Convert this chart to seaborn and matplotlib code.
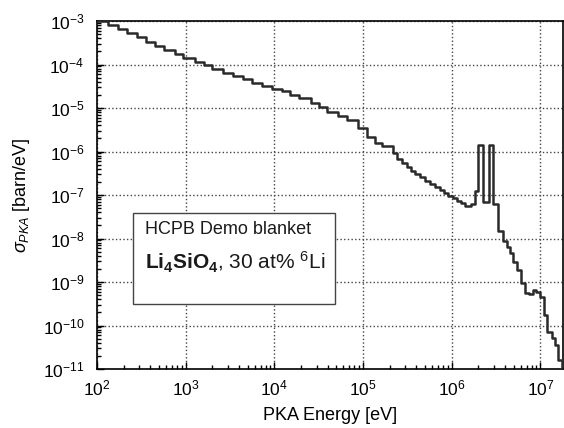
import matplotlib
matplotlib.use("Agg")
import matplotlib.pyplot as plt
import matplotlib.ticker as mticker
from matplotlib.patches import Rectangle
import numpy as np
import pandas as pd
import seaborn as sns

# PKA energy bin edges [eV]
energy_edges = [100, 132, 171, 216, 280, 354, 451, 569, 751, 933,
                1274, 1596, 1964, 2653, 3443, 4395, 5550, 7194, 9333,
                12090, 14990, 19090, 25650, 32070, 39450, 52480, 66370, 88300,
                109900, 136200, 162200, 218800, 243200,
                272300, 310500, 344400, 384800, 437800, 498800, 567800, 646800, 736500,
                817000, 914000, 1023000, 1153000, 1260000, 1409000, 1633000, 1827000, 1991000,
                2266000, 2648000, 2938000, 3345000, 3748000, 4157000, 4529000, 4935000, 5471000,
                5976000, 6683000, 7474000, 8291000, 8892000, 9866000, 10940000, 11740000, 13370000,
                14560000, 15870000, 17340000, 17950000]

# sigma_PKA per bin [barn/eV]
sigma_pka = [9.8e-4, 8.1e-4, 6.6e-4, 5.2e-4, 4.2e-4, 3.3e-4, 2.7e-4, 2.2e-4, 1.74e-4,
             1.41e-4, 1.15e-4, 9.8e-5, 7.9e-5, 6.5e-5, 5.5e-5, 4.6e-5, 3.8e-5, 3.2e-5,
             2.75e-5, 2.4e-5, 2.0e-5, 1.66e-5, 1.32e-5, 1.05e-5, 8.1e-6, 6.6e-6, 5.2e-6,
             3.5e-6, 2.2e-6, 1.55e-6, 1.35e-6, 9.1e-7,
             6.9e-7, 5.5e-7, 4.4e-7, 3.6e-7, 3.0e-7, 2.6e-7, 2.1e-7, 1.78e-7, 1.55e-7,
             1.29e-7, 1.10e-7, 9.5e-8, 8.7e-8, 7.4e-8, 6.6e-8, 5.6e-8, 6.2e-8, 1.26e-7,
             1.41e-6, 6.8e-8, 1.41e-6, 6.2e-8, 1.51e-8, 8.9e-9, 6.5e-9, 4.6e-9, 2.95e-9,
             1.9e-9, 9.3e-10, 5.6e-10, 5.2e-10, 6.6e-10, 6.0e-10, 4.6e-10, 1.74e-10, 7.2e-11,
             5.1e-11, 3.5e-11, 1.62e-11, 1.05e-11]

box_line1 = "HCPB Demo blanket"
box_line2 = r"$\mathbf{Li_4SiO_4}$, 30 at% $\mathregular{^6}$Li"
x_label = "PKA Energy [eV]"
y_label = r"$\sigma_{PKA}$ [barn/eV]"

sns.set_theme(style="white")
plt.rcParams["font.family"] = ["Liberation Sans", "DejaVu Sans"]
plt.rcParams["mathtext.fontset"] = "custom"
plt.rcParams["mathtext.rm"] = "Liberation Sans"
plt.rcParams["mathtext.it"] = "Liberation Sans:italic"
plt.rcParams["mathtext.bf"] = "Liberation Sans:bold"

df = pd.DataFrame({"E": energy_edges, "sigma": sigma_pka + [sigma_pka[-1]]})

fig = plt.figure(figsize=(5.64, 4.28), dpi=100)
ax = fig.add_axes([97 / 564, 1 - 369 / 428, 466 / 564, 348 / 428])

sns.lineplot(data=df, x="E", y="sigma", ax=ax, estimator=None, sort=True,
             drawstyle="steps-post", color="#2a2a2a", linewidth=1.8, zorder=3)

ax.set_xscale("log")
ax.set_yscale("log")
ax.set_xlim(100, 1.8e7)
ax.set_ylim(1e-11, 1e-3)

fmt = mticker.FuncFormatter(lambda v, p: r"$\mathregular{10^{%d}}$" % round(np.log10(v)))
ax.xaxis.set_major_locator(mticker.LogLocator(base=10, numticks=20))
ax.yaxis.set_major_locator(mticker.LogLocator(base=10, numticks=20))
ax.xaxis.set_minor_locator(mticker.LogLocator(base=10, subs=np.arange(2, 10), numticks=20))
ax.yaxis.set_minor_locator(mticker.LogLocator(base=10, subs=np.arange(2, 10), numticks=20))
ax.xaxis.set_major_formatter(fmt)
ax.yaxis.set_major_formatter(fmt)
ax.xaxis.set_minor_formatter(mticker.NullFormatter())
ax.yaxis.set_minor_formatter(mticker.NullFormatter())

ax.tick_params(which="both", direction="in", bottom=True, left=True, top=False, right=False,
               color="black", width=1)
ax.tick_params(which="major", length=5, labelsize=12.5, colors="black")
ax.tick_params(axis="x", which="major", pad=7)
ax.tick_params(axis="y", which="major", pad=9)
ax.tick_params(which="minor", length=3)

ax.grid(True, which="major", linestyle=":", color="#444444", linewidth=1)
for s in ax.spines.values():
    s.set_color("black")
    s.set_linewidth(1.2)

ax.set_xlabel(x_label, fontsize=13, labelpad=6, color="black")
ax.set_ylabel(y_label, fontsize=13, labelpad=8, color="black")

ax.add_patch(Rectangle((0.077, 0.187), 0.434, 0.261, transform=ax.transAxes,
                       facecolor="white", edgecolor="#444444", linewidth=1, zorder=4))
ax.text(0.103, 0.402, box_line1, transform=ax.transAxes, fontsize=13,
        va="center", ha="left", zorder=5, color="#1a1a1a")
ax.text(0.103, 0.307, box_line2, transform=ax.transAxes, fontsize=15,
        va="center", ha="left", zorder=5, color="#1a1a1a")

fig.savefig("out.png", dpi=100)
